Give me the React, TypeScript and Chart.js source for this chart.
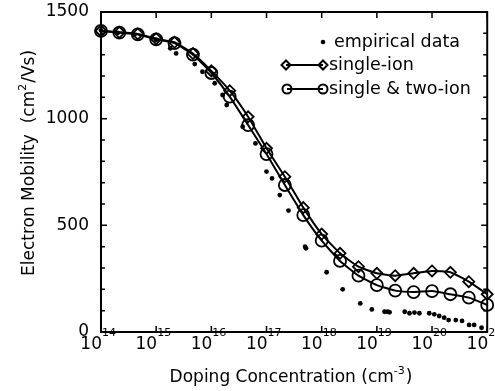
import React, { useEffect, useRef } from 'react';
import { Chart, registerables } from 'chart.js';

Chart.register(...registerables);

// ---- data ----
const modelConc = [
  1e14, 2.15e14, 4.64e14, 1e15, 2.15e15, 4.64e15, 1e16, 2.15e16, 4.64e16, 1e17, 2.15e17,
  4.64e17, 1e18, 2.15e18, 4.64e18, 1e19, 2.15e19, 4.64e19, 1e20, 2.15e20, 4.64e20, 1e21,
];
const singleIon = [
  1411, 1405, 1397, 1375, 1358, 1305, 1224, 1131, 1009, 861, 728,
  583, 459, 369, 306, 275, 264, 275, 286, 280, 236, 177,
];
const singleTwoIon = [
  1411, 1403, 1395, 1372, 1354, 1300, 1214, 1103, 970, 834, 689,
  548, 428, 333, 264, 220, 194, 187, 192, 177, 161, 127,
];
const empiricalConc = [
  1e14, 2e14, 4e14, 1e15, 1.8e15, 2.3e15, 5e15, 6.9e15, 1.15e16, 1.6e16, 1.9e16, 3.7e16,
  6.3e16, 1e17, 1.26e17, 1.74e17, 2.5e17, 5e17, 5.2e17, 1.23e18, 2.4e18, 5e18, 8.1e18,
  1.38e19, 1.58e19, 1.7e19, 3.2e19, 3.9e19, 4.8e19, 5.9e19, 8.9e19, 1.1e20, 1.35e20,
  1.66e20, 2e20, 2.7e20, 3.5e20, 4.7e20, 5.8e20, 7.9e20,
];
const empiricalMobility = [
  1414, 1402, 1392, 1370, 1330, 1306, 1256, 1220, 1166, 1111, 1064, 962,
  884, 752, 720, 642, 569, 400, 392, 280, 200, 134, 106,
  95, 95, 92, 95, 88, 91, 88, 88, 83, 75,
  67, 56, 56, 52, 33, 33, 20,
];
const xTickExponents = [14, 15, 16, 17, 18, 19, 20, 21];
const yTickLabels = [0, 500, 1000, 1500];
const yMinorStep = 100;
const legendLabels = ['empirical data', 'single-ion', 'single & two-ion'];
const xTitleParts = ['Doping Concentration (cm', '-3', ')'];
const yTitleParts = ['Electron Mobility  (cm', '2', '/Vs)'];

const FONT = '"DejaVu Sans", sans-serif';

function drawParts(ctx: CanvasRenderingContext2D, parts: string[], cx: number, baseY: number, size: number, supSize: number) {
  ctx.font = `${size}px ${FONT}`;
  const w0 = ctx.measureText(parts[0]).width;
  const w2 = ctx.measureText(parts[2]).width;
  ctx.font = `${supSize}px ${FONT}`;
  const w1 = ctx.measureText(parts[1]).width;
  const total = w0 + w1 + w2 + 1;
  let xx = cx - total / 2;
  ctx.textAlign = 'left';
  ctx.textBaseline = 'alphabetic';
  ctx.font = `${size}px ${FONT}`;
  ctx.fillText(parts[0], xx, baseY);
  xx += w0;
  ctx.font = `${supSize}px ${FONT}`;
  ctx.fillText(parts[1], xx, baseY - size * 0.45);
  xx += w1 + 1;
  ctx.font = `${size}px ${FONT}`;
  ctx.fillText(parts[2], xx, baseY);
}

const axesPlugin = {
  id: 'paperAxes',
  beforeDatasetsDraw(chart: any) {
    const { ctx, chartArea } = chart;
    const { left, right, top, bottom } = chartArea;
    const x = chart.scales.x;
    const y = chart.scales.y;
    ctx.save();
    ctx.strokeStyle = '#000';
    ctx.fillStyle = '#000';
    ctx.lineWidth = 2;
    ctx.strokeRect(left, top, right - left, bottom - top);

    ctx.lineWidth = 1.5;
    ctx.beginPath();
    xTickExponents.forEach((e) => {
      const px = x.getPixelForValue(Math.pow(10, e));
      ctx.moveTo(px, bottom);
      ctx.lineTo(px, bottom - 6);
      ctx.moveTo(px, top);
      ctx.lineTo(px, top + 6);
    });
    for (let v = y.min; v <= y.max; v += yMinorStep) {
      const py = y.getPixelForValue(v);
      const len = yTickLabels.includes(v) ? 6 : 4;
      ctx.moveTo(left, py);
      ctx.lineTo(left + len, py);
      ctx.moveTo(right, py);
      ctx.lineTo(right - len, py);
    }
    ctx.stroke();

    // y tick labels
    ctx.font = `17px ${FONT}`;
    ctx.textAlign = 'right';
    ctx.textBaseline = 'middle';
    yTickLabels.forEach((v) => {
      ctx.fillText(String(v), left - 12, y.getPixelForValue(v));
    });

    // x tick labels 10^n
    xTickExponents.forEach((e) => {
      const px = x.getPixelForValue(Math.pow(10, e));
      ctx.font = `17px ${FONT}`;
      ctx.textAlign = 'right';
      ctx.textBaseline = 'alphabetic';
      ctx.fillText('10', px + 1, bottom + 17);
      ctx.font = `11px ${FONT}`;
      ctx.textAlign = 'left';
      ctx.fillText(String(e), px + 1, bottom + 4);
    });

    // axis titles
    drawParts(ctx, xTitleParts, 291, 382, 17, 11);
    ctx.save();
    ctx.translate(34, 163);
    ctx.rotate(-Math.PI / 2);
    drawParts(ctx, yTitleParts, 0, 0, 17, 11);
    ctx.restore();

    ctx.restore();
  },
  afterDatasetsDraw(chart: any) {
    const { ctx } = chart;
    ctx.save();
    ctx.strokeStyle = '#000';
    ctx.fillStyle = '#000';
    ctx.font = `17.5px ${FONT}`;
    ctx.textAlign = 'left';
    ctx.textBaseline = 'middle';
    const rows = [42, 65, 89];
    // empirical
    ctx.beginPath();
    ctx.arc(323, rows[0], 2.3, 0, Math.PI * 2);
    ctx.fill();
    ctx.fillText(legendLabels[0], 334, rows[0]);
    // single-ion
    ctx.lineWidth = 2;
    ctx.beginPath();
    ctx.moveTo(286, rows[1]);
    ctx.lineTo(323, rows[1]);
    ctx.stroke();
    [286, 323].forEach((cx) => {
      ctx.beginPath();
      ctx.moveTo(cx, rows[1] - 4.5);
      ctx.lineTo(cx + 4.5, rows[1]);
      ctx.lineTo(cx, rows[1] + 4.5);
      ctx.lineTo(cx - 4.5, rows[1]);
      ctx.closePath();
      ctx.stroke();
    });
    ctx.fillText(legendLabels[1], 329, rows[1]);
    // single & two-ion
    ctx.beginPath();
    ctx.moveTo(287, rows[2]);
    ctx.lineTo(323, rows[2]);
    ctx.stroke();
    [287, 323].forEach((cx) => {
      ctx.beginPath();
      ctx.arc(cx, rows[2], 4.5, 0, Math.PI * 2);
      ctx.stroke();
    });
    ctx.fillText(legendLabels[2], 329, rows[2]);
    ctx.restore();
  },
};

export default function App() {
  const canvasRef = useRef<HTMLCanvasElement | null>(null);

  useEffect(() => {
    const canvas = canvasRef.current;
    if (!canvas) return;
    const chart = new Chart(canvas, {
      type: 'scatter',
      data: {
        datasets: [
          {
            label: legendLabels[0],
            data: empiricalConc.map((c, i) => ({ x: c, y: empiricalMobility[i] })),
            showLine: false,
            pointRadius: 2.4,
            pointStyle: 'circle',
            backgroundColor: '#000',
            borderColor: '#000',
            pointBorderWidth: 0,
            clip: false,
          },
          {
            label: legendLabels[1],
            data: modelConc.map((c, i) => ({ x: c, y: singleIon[i] })),
            showLine: true,
            borderColor: '#000',
            borderWidth: 2,
            backgroundColor: 'rgba(0,0,0,0)',
            pointStyle: 'rectRot',
            pointRadius: 5.5,
            pointBorderWidth: 1.8,
            pointBorderColor: '#000',
            pointBackgroundColor: 'rgba(0,0,0,0)',
            tension: 0.15,
            clip: false,
          },
          {
            label: legendLabels[2],
            data: modelConc.map((c, i) => ({ x: c, y: singleTwoIon[i] })),
            showLine: true,
            borderColor: '#000',
            borderWidth: 2,
            backgroundColor: 'rgba(0,0,0,0)',
            pointStyle: 'circle',
            pointRadius: 6,
            pointBorderWidth: 1.8,
            pointBorderColor: '#000',
            pointBackgroundColor: 'rgba(0,0,0,0)',
            tension: 0.15,
            clip: false,
          },
        ],
      },
      options: {
        responsive: false,
        animation: false,
        devicePixelRatio: 1,
        layout: { padding: { left: 101, right: 7, top: 12, bottom: 59 } },
        scales: {
          x: { type: 'logarithmic', min: 1e14, max: 1e21, display: false },
          y: { type: 'linear', min: 0, max: 1500, display: false },
        },
        plugins: {
          legend: { display: false },
          tooltip: { enabled: false },
        },
      },
      plugins: [axesPlugin],
    });
    return () => chart.destroy();
  }, []);

  return (
    <div style={{ position: 'fixed', left: 0, top: 0, width: 495, height: 391, background: '#fff' }}>
      <canvas ref={canvasRef} width={495} height={391} style={{ display: 'block' }} />
    </div>
  );
}
